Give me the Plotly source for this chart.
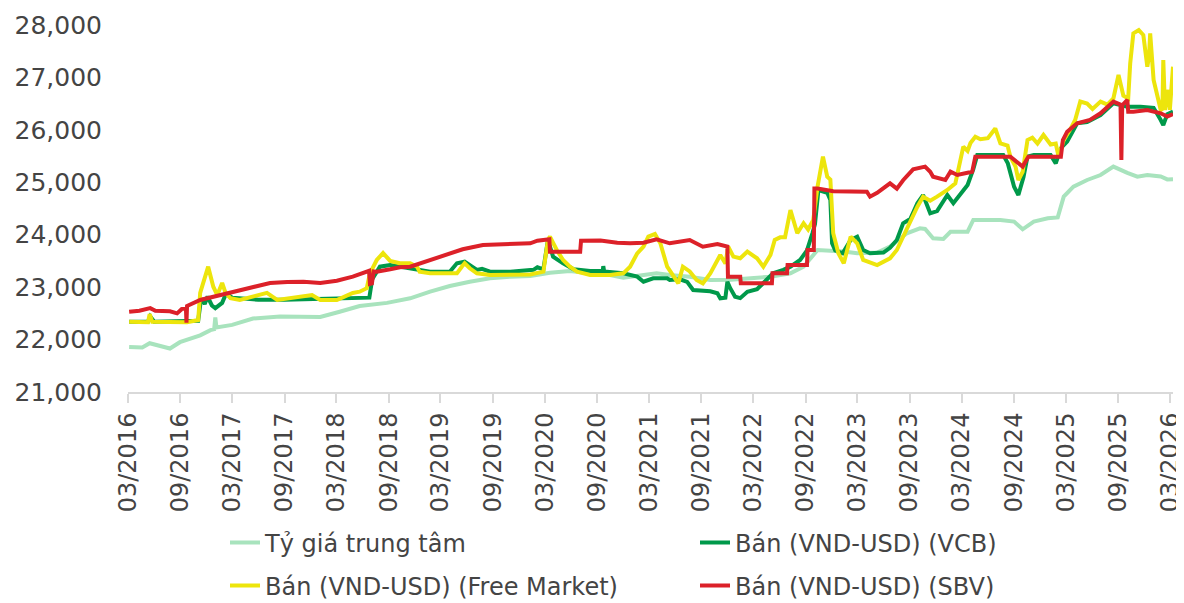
import plotly.graph_objects as go

# ---------------- data ----------------
central_dates = [
    "2016-03-05", "2016-04-20", "2016-05-16", "2016-06-20", "2016-07-26", "2016-08-30",
    "2016-09-24", "2016-11-09", "2016-12-15", "2016-12-28", "2017-01-01", "2017-01-05",
    "2017-03-01", "2017-05-13", "2017-08-16", "2017-10-25", "2018-01-04", "2018-03-13",
    "2018-05-22", "2018-08-26", "2018-10-10", "2018-11-15", "2019-01-24", "2019-04-03",
    "2019-06-12", "2019-08-22", "2019-11-01", "2020-01-10", "2020-03-19", "2020-05-28",
    "2020-08-07", "2020-10-16", "2020-12-01", "2021-02-10", "2021-03-28", "2021-05-13",
    "2021-07-22", "2021-10-02", "2021-12-13", "2022-02-21", "2022-05-01", "2022-07-10",
    "2022-08-25", "2022-10-13", "2022-11-27", "2023-01-13", "2023-03-01", "2023-05-10",
    "2023-06-24", "2023-08-09", "2023-08-22", "2023-10-07", "2023-10-25", "2023-11-22",
    "2023-12-28", "2024-01-22", "2024-03-22", "2024-04-11", "2024-07-15", "2024-09-01",
    "2024-10-01", "2024-11-09", "2024-12-28", "2025-02-01", "2025-02-22", "2025-03-28",
    "2025-05-15", "2025-07-01", "2025-08-15", "2025-10-03", "2025-11-07", "2025-12-12",
    "2026-01-28", "2026-02-20", "2026-03-12",
]
central_vals = [
    21860, 21850, 21930, 21880, 21830, 21950,
    22000, 22080, 22180, 22200, 22420, 22230,
    22280, 22400, 22440, 22430, 22430, 22530,
    22640, 22700, 22740, 22787, 22913, 23022,
    23104, 23168, 23200, 23212, 23276, 23308,
    23263, 23230, 23180, 23230, 23263, 23230,
    23200, 23136, 23140, 23170, 23200, 23263,
    23390, 23708, 23700, 23680, 23645, 23660,
    23772, 23963, 24027, 24122, 24110, 23932,
    23920, 24057, 24057, 24281, 24281, 24250,
    24103, 24250, 24313, 24330, 24726, 24916,
    25044, 25139, 25299, 25180, 25107, 25140,
    25110, 25055, 25060,
]

vcb_dates = [
    "2016-03-05", "2016-05-10", "2016-05-18", "2016-06-01", "2016-11-02", "2016-11-12",
    "2016-11-25", "2016-12-05", "2016-12-20", "2017-01-01", "2017-01-25", "2017-02-08",
    "2017-03-01", "2017-06-01", "2017-09-01", "2017-12-01", "2018-03-01", "2018-06-25",
    "2018-07-05", "2018-08-01", "2018-09-06", "2018-10-01", "2018-12-10", "2019-01-24",
    "2019-04-03", "2019-04-28", "2019-05-25", "2019-07-07", "2019-07-25", "2019-08-22",
    "2019-11-01", "2020-01-21", "2020-02-04", "2020-02-25", "2020-03-12", "2020-03-30",
    "2020-05-04", "2020-06-10", "2020-08-07", "2020-09-20", "2020-09-22", "2020-09-25",
    "2020-12-01", "2021-01-19", "2021-02-10", "2021-03-16", "2021-05-04", "2021-05-13",
    "2021-06-18", "2021-07-13", "2021-08-03", "2021-10-02", "2021-10-27", "2021-11-06",
    "2021-11-24", "2021-12-01", "2021-12-11", "2021-12-28", "2022-01-15", "2022-02-09",
    "2022-03-15", "2022-04-06", "2022-05-10", "2022-06-15", "2022-07-10", "2022-08-13",
    "2022-09-06", "2022-09-25", "2022-10-04", "2022-10-16", "2022-11-16", "2022-11-27",
    "2022-12-03", "2022-12-14", "2023-01-09", "2023-02-06", "2023-03-01", "2023-03-22",
    "2023-04-15", "2023-06-01", "2023-06-24", "2023-07-18", "2023-08-09", "2023-09-03",
    "2023-09-28", "2023-10-18", "2023-11-12", "2023-12-06", "2024-01-11", "2024-02-01",
    "2024-02-26", "2024-03-22", "2024-04-11", "2024-04-25", "2024-07-25", "2024-08-10",
    "2024-09-01", "2024-09-16", "2024-10-04", "2024-10-18", "2024-11-09", "2025-01-07",
    "2025-01-25", "2025-02-12", "2025-03-06", "2025-04-10", "2025-05-15", "2025-07-01",
    "2025-08-15", "2025-10-03", "2025-11-18", "2026-01-03", "2026-01-28", "2026-02-06",
    "2026-02-20", "2026-03-12",
]
vcb_vals = [
    22340, 22340, 22440, 22340, 22360, 22780,
    22680, 22820, 22650, 22600, 22700, 22880,
    22800, 22760, 22760, 22770, 22790, 22800,
    23150, 23390, 23420, 23400, 23327, 23295,
    23295, 23455, 23485, 23330, 23350, 23295,
    23295, 23330, 23378, 23340, 23900, 23582,
    23455, 23340, 23308, 23308, 23400, 23300,
    23263, 23200, 23104, 23168, 23168, 23136,
    23150, 23100, 22945, 22920, 22882, 22787,
    22800, 23104, 22980, 22817, 22790, 22913,
    22960, 23073, 23263, 23330, 23390, 23518,
    23700, 24027, 24200, 24853, 24800, 24662,
    23836, 23700, 23645, 23900, 23963, 23708,
    23645, 23660, 23750, 23900, 24218, 24300,
    24598, 24757, 24408, 24450, 24757, 24600,
    24780, 24950, 25250, 25520, 25520, 25361,
    24916, 24757, 25100, 25488, 25520, 25520,
    25361, 25650, 25775, 26125, 26150, 26283,
    26506, 26443, 26443, 26420, 26188, 26093,
    26300, 26347,
]

free_dates = [
    "2016-03-05", "2016-05-10", "2016-05-16", "2016-05-25", "2016-09-24", "2016-11-02",
    "2016-11-09", "2016-12-07", "2016-12-25", "2017-01-08", "2017-01-25", "2017-02-06",
    "2017-02-23", "2017-03-28", "2017-07-01", "2017-08-06", "2017-12-06", "2018-01-04",
    "2018-03-03", "2018-04-28", "2018-05-22", "2018-06-16", "2018-06-27", "2018-07-21",
    "2018-08-12", "2018-09-06", "2018-10-10", "2018-11-15", "2018-12-09", "2018-12-18",
    "2019-01-24", "2019-04-03", "2019-04-28", "2019-05-15", "2019-05-25", "2019-06-12",
    "2019-07-07", "2019-08-22", "2019-11-01", "2020-01-10", "2020-02-25", "2020-03-12",
    "2020-03-19", "2020-04-12", "2020-05-04", "2020-05-28", "2020-06-22", "2020-08-07",
    "2020-10-16", "2020-12-01", "2020-12-25", "2021-01-19", "2021-02-10", "2021-02-27",
    "2021-03-22", "2021-04-10", "2021-05-04", "2021-05-25", "2021-06-12", "2021-06-28",
    "2021-07-22", "2021-08-15", "2021-09-06", "2021-10-02", "2021-10-27", "2021-11-06",
    "2021-11-24", "2021-12-04", "2021-12-22", "2022-01-15", "2022-02-09", "2022-03-15",
    "2022-04-06", "2022-05-01", "2022-05-16", "2022-06-04", "2022-06-21", "2022-07-10",
    "2022-08-03", "2022-08-25", "2022-09-10", "2022-09-28", "2022-10-13", "2022-11-01",
    "2022-11-16", "2022-11-27", "2022-12-07", "2022-12-25", "2023-01-13", "2023-02-06",
    "2023-03-01", "2023-03-22", "2023-05-10", "2023-06-24", "2023-07-18", "2023-08-09",
    "2023-09-03", "2023-09-28", "2023-10-18", "2023-11-12", "2023-12-06", "2024-01-11",
    "2024-02-08", "2024-02-26", "2024-03-07", "2024-03-22", "2024-04-01", "2024-04-18",
    "2024-05-06", "2024-06-01", "2024-06-27", "2024-07-15", "2024-08-09", "2024-08-19",
    "2024-09-06", "2024-09-16", "2024-10-01", "2024-10-18", "2024-11-04", "2024-11-22",
    "2024-12-13", "2025-01-07", "2025-01-25", "2025-02-04", "2025-02-22", "2025-03-16",
    "2025-04-03", "2025-04-21", "2025-05-15", "2025-06-03", "2025-07-01", "2025-07-25",
    "2025-08-15", "2025-09-02", "2025-09-19", "2025-10-06", "2025-10-13", "2025-10-24",
    "2025-11-12", "2025-11-28", "2025-12-12", "2025-12-18", "2025-12-22", "2026-01-03",
    "2026-01-15", "2026-01-28", "2026-02-03", "2026-02-06", "2026-02-12", "2026-02-24",
    "2026-03-01", "2026-03-12",
]
free_vals = [
    22340, 22330, 22485, 22340, 22330, 22373,
    22890, 23390, 23008, 22850, 23080, 22890,
    22790, 22755, 22890, 22755, 22850, 22755,
    22755, 22890, 22913, 22980, 23263, 23518,
    23650, 23500, 23455, 23455, 23390, 23295,
    23263, 23250, 23263, 23390, 23455, 23360,
    23263, 23231, 23231, 23240, 23295, 23900,
    23963, 23708, 23518, 23390, 23295, 23231,
    23231, 23263, 23390, 23645, 23772, 23963,
    24014, 23836, 23390, 23200, 23073, 23390,
    23300, 23136, 23073, 23263, 23518, 23613,
    23450, 23772, 23582, 23550, 23677, 23550,
    23390, 23613, 23900, 23950, 23950, 24471,
    24027, 24218, 24100, 24280, 24916, 25488,
    25107, 25050, 24027, 23645, 23455, 23963,
    23836, 23518, 23422, 23550, 23708, 23963,
    24218, 24535, 24726, 24650, 24726, 24853,
    24980, 25424, 25679, 25600, 25750, 25870,
    25820, 25840, 26026, 25740, 25700, 25488,
    25300, 25044, 25200, 25806, 25850, 25740,
    25902, 25720, 25740, 25490, 25806, 26000,
    26188, 26539, 26500, 26400, 26539, 26480,
    26600, 27046, 26650, 26600, 27268, 27840,
    27904, 27809, 27205, 27400, 27840, 26952,
    26634, 26379, 26400, 27332, 26380, 26761,
    26380, 27205,
]

sbv_dates = [
    "2016-03-05", "2016-04-10", "2016-05-18", "2016-06-05", "2016-07-26", "2016-08-20",
    "2016-09-05", "2016-09-20", "2016-09-22", "2016-09-24", "2016-11-09", "2017-01-18",
    "2017-03-17", "2017-05-13", "2017-07-12", "2017-09-10", "2017-11-06", "2018-01-04",
    "2018-03-03", "2018-04-28", "2018-06-16", "2018-06-24", "2018-06-27", "2018-07-04",
    "2018-07-10", "2018-07-21", "2018-09-06", "2018-10-10", "2018-11-15", "2019-01-24",
    "2019-04-03", "2019-05-18", "2019-07-28", "2019-09-27", "2019-11-25", "2020-01-10",
    "2020-02-04", "2020-03-17", "2020-03-19", "2020-07-03", "2020-07-06", "2020-09-12",
    "2020-11-10", "2020-12-25", "2021-02-10", "2021-03-28", "2021-05-13", "2021-07-22",
    "2021-09-06", "2021-10-27", "2021-12-01", "2021-12-03", "2022-01-15", "2022-01-17",
    "2022-05-06", "2022-05-08", "2022-06-28", "2022-06-30", "2022-09-06", "2022-09-08",
    "2022-09-30", "2022-10-02", "2022-10-13", "2022-12-07", "2023-04-04", "2023-04-15",
    "2023-05-10", "2023-06-24", "2023-07-18", "2023-08-09", "2023-09-13", "2023-10-07",
    "2023-10-25", "2023-11-12", "2023-11-22", "2024-01-04", "2024-01-22", "2024-02-15",
    "2024-03-22", "2024-04-07", "2024-04-18", "2024-08-19", "2024-10-01", "2024-10-21",
    "2025-02-12", "2025-02-19", "2025-03-06", "2025-04-10", "2025-05-25", "2025-07-01",
    "2025-08-15", "2025-09-09", "2025-09-12", "2025-09-15", "2025-10-03", "2025-10-06",
    "2025-10-24", "2025-12-12", "2026-01-28", "2026-02-20", "2026-03-12",
]
sbv_vals = [
    22530, 22550, 22600, 22550, 22540, 22500,
    22580, 22600, 22320, 22640, 22755, 22850,
    22913, 23008, 23080, 23100, 23104, 23080,
    23123, 23200, 23295, 23310, 23060, 23070,
    23300, 23295, 23340, 23380, 23390, 23518,
    23645, 23722, 23804, 23817, 23836, 23836,
    23886, 23912, 23676, 23676, 23886, 23890,
    23848, 23836, 23848, 23912, 23836, 23900,
    23772, 23820, 23772, 23200, 23200, 23073,
    23073, 23263, 23263, 23422, 23422, 23708,
    23708, 24880, 24880, 24830, 24820, 24725,
    24800, 24980, 24880, 25040, 25247, 25267,
    25299, 25200, 25107, 25044, 25203, 25140,
    25170, 25200, 25488, 25488, 25299, 25488,
    25488, 25806, 25965, 26125, 26188, 26316,
    26539, 26480, 25424, 26470, 26570, 26347,
    26347, 26379, 26316, 26252, 26300,
]

tick_dates = [
    "2016-03-01", "2016-09-01", "2017-03-01", "2017-09-01", "2018-03-01", "2018-09-01",
    "2019-03-01", "2019-09-01", "2020-03-01", "2020-09-01", "2021-03-01", "2021-09-01",
    "2022-03-01", "2022-09-01", "2023-03-01", "2023-09-01", "2024-03-01", "2024-09-01",
    "2025-03-01", "2025-09-01", "2026-03-01",
]
tick_labels = [
    "03/2016", "09/2016", "03/2017", "09/2017", "03/2018", "09/2018",
    "03/2019", "09/2019", "03/2020", "09/2020", "03/2021", "09/2021",
    "03/2022", "09/2022", "03/2023", "09/2023", "03/2024", "09/2024",
    "03/2025", "09/2025", "03/2026",
]
y_ticks = [21000, 22000, 23000, 24000, 25000, 26000, 27000, 28000]

series_names = [
    "Tỷ giá trung tâm",
    "Bán (VND-USD) (VCB)",
    "Bán (VND-USD) (Free Market)",
    "Bán (VND-USD) (SBV)",
]

# ---------------- styling ----------------
# The page body keeps the browser's default 8px margin, so the figure is drawn
# 8px smaller and all positions are expressed 8px up/left of their target.
OFF = 8
W, H = 1184 - OFF, 603 - OFF
FONT = "DejaVu Sans, Open Sans, sans-serif"
TXT = "#444444"
colors = ["#A8E3BD", "#00994A", "#EDE50C", "#DC2129"]
legend_ids = ["legend", "legend", "legend2", "legend2"]

fig = go.Figure()
for dates, vals, name, col, lg in zip(
    [central_dates, vcb_dates, free_dates, sbv_dates],
    [central_vals, vcb_vals, free_vals, sbv_vals],
    series_names, colors, legend_ids,
):
    fig.add_trace(go.Scatter(
        x=dates, y=vals, name=name, mode="lines",
        line=dict(color=col, width=4),
        legend=lg,
    ))

legend_common = dict(
    orientation="h", xref="container", yref="container",
    xanchor="left", yanchor="middle",
    entrywidth=425, entrywidthmode="pixels",
    font=dict(family=FONT, size=24, color=TXT),
    bgcolor="rgba(0,0,0,0)", borderwidth=0,
    itemclick=False, itemdoubleclick=False,
)

fig.update_layout(
    width=W, height=H,
    margin=dict(l=128 - OFF, r=1184 - 1173, t=25 - OFF, b=603 - 392, autoexpand=False),
    paper_bgcolor="white", plot_bgcolor="white",
    font=dict(family=FONT, size=24, color=TXT),
    showlegend=True,
    legend=dict(x=(225 - OFF) / W, y=1 - (543 - OFF) / H, **legend_common),
    legend2=dict(x=(225 - OFF) / W, y=1 - (586 - OFF) / H, **legend_common),
    xaxis=dict(
        type="date",
        range=["2016-03-01", "2026-03-12"],
        tickmode="array", tickvals=tick_dates, ticktext=tick_labels,
        tickangle=-90,
        tickfont=dict(family=FONT, size=24, color=TXT),
        showgrid=False, zeroline=False,
        showline=True, linecolor="#D9D9D9", linewidth=2,
        ticks="outside", ticklen=9, tickwidth=2, tickcolor="#D9D9D9",
        automargin=False,
    ),
    yaxis=dict(
        range=[21000, 28000],
        tickmode="array", tickvals=y_ticks,
        tickformat=",d",
        tickfont=dict(family=FONT, size=25, color=TXT),
        showgrid=False, zeroline=False, showline=False,
        ticks="", ticklabelstandoff=25,
        automargin=False,
    ),
)

fig.write_html("out.html")
